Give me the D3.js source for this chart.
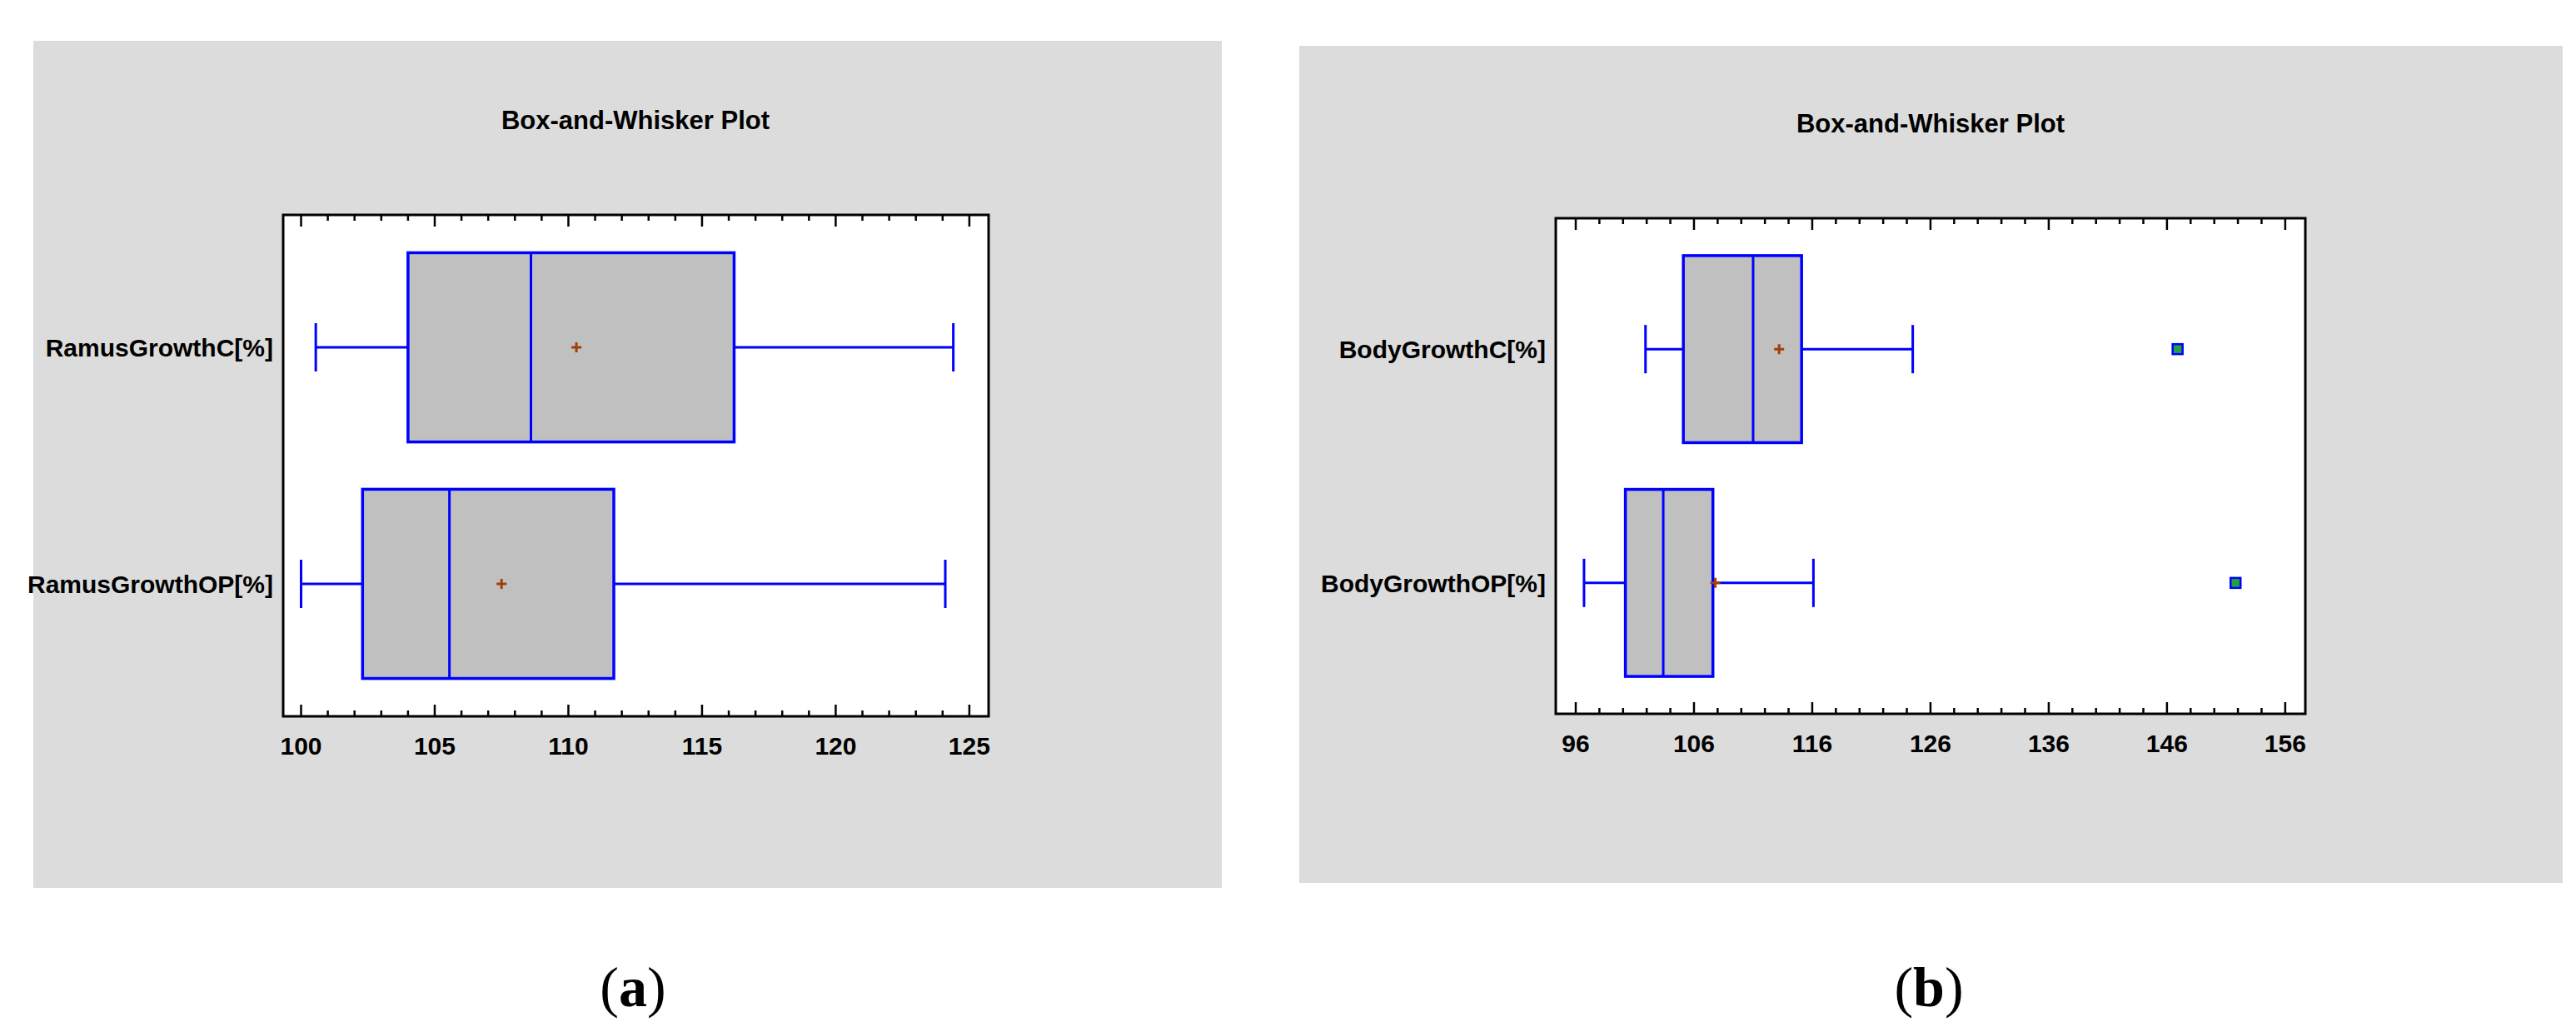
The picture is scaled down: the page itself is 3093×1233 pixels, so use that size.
<!DOCTYPE html>
<html>
<head>
<meta charset="utf-8">
<script src="https://cdn.jsdelivr.net/npm/d3@7"></script>
<style>
  body { margin: 0; background: #fff; }
  svg text.sans { font-family: "Liberation Sans Narrow", "Liberation Sans", Arial, sans-serif; }
  svg text.serif { font-family: "Liberation Serif", "DejaVu Serif", serif; }
</style>
</head>
<body>
<svg id="chart" width="3093" height="1233"></svg>
<script>
// panel (a)
const ramusNames = ['RamusGrowthC[%]', 'RamusGrowthOP[%]'];
const ramusStats = [
  { min: 100.55, q1: 104.0, median: 108.6, q3: 116.2, max: 124.4, mean: 110.3, outliers: [] },
  { min: 100.0, q1: 102.3, median: 105.55, q3: 111.7, max: 124.1, mean: 107.5, outliers: [] }
];
const ramusTicks = [100, 105, 110, 115, 120, 125];

// panel (b)
const bodyNames = ['BodyGrowthC[%]', 'BodyGrowthOP[%]'];
const bodyStats = [
  { min: 101.9, q1: 105.1, median: 111.0, q3: 115.1, max: 124.5, mean: 113.2, outliers: [146.9] },
  { min: 96.7, q1: 100.2, median: 103.4, q3: 107.6, max: 116.1, mean: 107.8, outliers: [151.8] }
];
const bodyTicks = [96, 106, 116, 126, 136, 146, 156];

const svg = d3.select('#chart');

function drawPanel(cfg) {
  const g = svg.append('g');

  // grey background
  g.append('rect')
    .attr('x', cfg.bg[0]).attr('y', cfg.bg[1])
    .attr('width', cfg.bg[2]).attr('height', cfg.bg[3])
    .attr('fill', '#dcdcdc');

  g.append('text').attr('class', 'sans')
    .attr('x', cfg.titleX).attr('y', cfg.titleY)
    .attr('text-anchor', 'middle')
    .attr('font-size', 31).attr('font-weight', 'bold')
    .text('Box-and-Whisker Plot');

  const { left, right, top, bottom } = cfg.frame;
  g.append('rect')
    .attr('x', left).attr('y', top)
    .attr('width', right - left).attr('height', bottom - top)
    .attr('fill', '#fff');

  const x = d3.scaleLinear().domain(cfg.domain).range([left, right]);
  const y = d3.scaleBand().domain(cfg.names).range([top, bottom]).paddingInner(0.2).paddingOuter(0.16);

  // minor + major ticks, top and bottom, pointing inward
  const minor = d3.range(cfg.ticks[0], cfg.ticks[cfg.ticks.length - 1] + 0.001, cfg.minorStep);
  minor.forEach(v => {
    const isMajor = cfg.ticks.some(t => Math.abs(t - v) < 1e-6);
    const len = isMajor ? 14 : 7;
    g.append('line').attr('x1', x(v)).attr('x2', x(v))
      .attr('y1', bottom).attr('y2', bottom - len)
      .attr('stroke', '#000').attr('stroke-width', 2.5);
    g.append('line').attr('x1', x(v)).attr('x2', x(v))
      .attr('y1', top).attr('y2', top + len)
      .attr('stroke', '#000').attr('stroke-width', 2.5);
  });

  g.selectAll('.tick-label').data(cfg.ticks).enter().append('text').attr('class', 'sans')
    .attr('x', d => x(d)).attr('y', bottom + 46)
    .attr('text-anchor', 'middle')
    .attr('font-size', 30).attr('font-weight', 'bold')
    .text(d => d);

  g.append('rect')
    .attr('x', left).attr('y', top)
    .attr('width', right - left).attr('height', bottom - top)
    .attr('fill', 'none').attr('stroke', '#000').attr('stroke-width', 3);

  cfg.names.forEach((name, i) => {
    const s = cfg.stats[i];
    const y0 = y(name), bh = y.bandwidth(), cy = y0 + bh / 2;

    g.append('text').attr('class', 'sans')
      .attr('x', left - 12).attr('y', cy + 11)
      .attr('text-anchor', 'end')
      .attr('font-size', 30).attr('font-weight', 'bold')
      .text(name);

    // whiskers
    g.append('line').attr('x1', x(s.min)).attr('x2', x(s.q1)).attr('y1', cy).attr('y2', cy)
      .attr('stroke', '#0000ff').attr('stroke-width', 3);
    g.append('line').attr('x1', x(s.q3)).attr('x2', x(s.max)).attr('y1', cy).attr('y2', cy)
      .attr('stroke', '#0000ff').attr('stroke-width', 3);
    [s.min, s.max].forEach(v => {
      g.append('line').attr('x1', x(v)).attr('x2', x(v)).attr('y1', cy - 29).attr('y2', cy + 29)
        .attr('stroke', '#0000ff').attr('stroke-width', 3);
    });

    g.append('rect')
      .attr('x', x(s.q1)).attr('y', y0)
      .attr('width', x(s.q3) - x(s.q1)).attr('height', bh)
      .attr('fill', '#c0c0c0').attr('stroke', '#0000ff').attr('stroke-width', 3.5);
    g.append('line').attr('x1', x(s.median)).attr('x2', x(s.median)).attr('y1', y0).attr('y2', y0 + bh)
      .attr('stroke', '#0000ff').attr('stroke-width', 3);

    // mean marker
    const mx = x(s.mean);
    g.append('path')
      .attr('d', `M${mx - 6},${cy}H${mx + 6}M${mx},${cy - 6}V${cy + 6}`)
      .attr('stroke', '#a0400a').attr('stroke-width', 3);

    s.outliers.forEach(o => {
      const ox = x(o);
      g.append('rect').attr('x', ox - 6).attr('y', cy - 6).attr('width', 12).attr('height', 12)
        .attr('fill', '#20a040').attr('stroke', '#0000ff').attr('stroke-width', 2.5);
    });
  });

  g.append('text').attr('class', 'serif')
    .attr('x', cfg.labelX).attr('y', 1208)
    .attr('text-anchor', 'middle')
    .attr('font-size', 68)
    .html(`(<tspan font-weight="bold">${cfg.label}</tspan>)`);
}

drawPanel({
  bg: [40, 49, 1427, 1017], titleX: 763, titleY: 155,
  frame: { left: 340, right: 1187, top: 258, bottom: 860 },
  domain: [99.33, 125.72], ticks: ramusTicks, minorStep: 1,
  names: ramusNames, stats: ramusStats, label: 'a', labelX: 760
});

drawPanel({
  bg: [1560, 55, 1517, 1005], titleX: 2318, titleY: 159,
  frame: { left: 1868, right: 2768, top: 262, bottom: 857 },
  domain: [94.31, 157.7], ticks: bodyTicks, minorStep: 2,
  names: bodyNames, stats: bodyStats, label: 'b', labelX: 2316
});
</script>
</body>
</html>
